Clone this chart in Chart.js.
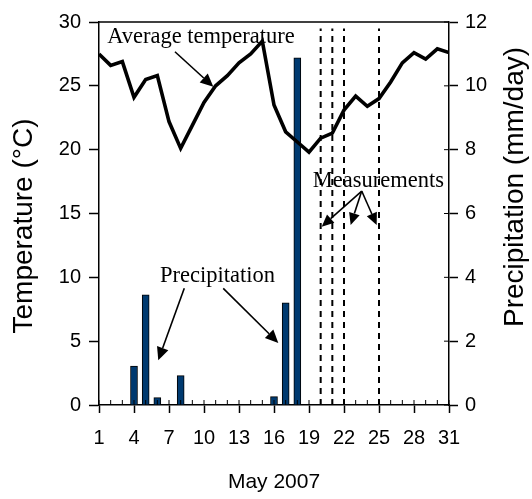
<!DOCTYPE html>
<html>
<head>
<meta charset="utf-8">
<script src="https://cdn.jsdelivr.net/npm/chart.js@4"></script>
<style>
  html, body { margin:0; padding:0; background:#fff; }
  canvas { display:block; }
</style>
</head>
<body>
<canvas id="chart" width="532" height="499"></canvas>
<script>
// ---- data (May 2007) ----
const days = [1,2,3,4,5,6,7,8,9,10,11,12,13,14,15,16,17,18,19,20,21,22,23,24,25,26,27,28,29,30,31];
const avgTemp = [27.5,26.6,26.9,24.1,25.5,25.8,22.2,20.1,21.9,23.7,25.0,25.8,26.8,27.5,28.5,
                 23.5,21.4,20.6,19.8,20.9,21.3,23.1,24.2,23.4,24.0,25.3,26.8,27.6,27.1,27.9,27.6];
const rainDays = [4,5,6,8,16,17,18];
const rainMm   = [1.22,3.45,0.23,0.92,0.26,3.2,10.88];
const measureDays = [20,21,22,25];
const measureTop  = 29.5;   // °C, top of the dashed lines
const xTickLabels = [1,4,7,10,13,16,19,22,25,28,31];
const tempTicks   = [0,5,10,15,20,25,30];
const rainTicks   = [0,2,4,6,8,10,12];

const SANS  = '"Liberation Sans", Arial, sans-serif';
const SERIF = '"Liberation Serif", "Times New Roman", serif';

// arrow helper
function arrow(ctx, x1, y1, x2, y2, len, half) {
  const a = Math.atan2(y2 - y1, x2 - x1);
  const bx = x2 - len * Math.cos(a), by = y2 - len * Math.sin(a);
  ctx.beginPath(); ctx.moveTo(x1, y1); ctx.lineTo(bx, by); ctx.stroke();
  ctx.beginPath();
  ctx.moveTo(x2, y2);
  ctx.lineTo(bx + half * Math.sin(a), by - half * Math.cos(a));
  ctx.lineTo(bx - half * Math.sin(a), by + half * Math.cos(a));
  ctx.closePath(); ctx.fill();
}

function vText(ctx, text, cx, cy) {
  ctx.save();
  ctx.translate(cx, cy);
  ctx.rotate(-Math.PI / 2);
  ctx.fillText(text, 0, 0);
  ctx.restore();
}

// frame, minor ticks, notes, axis titles (both read bottom to top)
const notes = {
  id: 'notes',
  afterDatasetsDraw(chart) {
    const { ctx, chartArea: a, scales: { x, yT, yP } } = chart;
    const px = d => x.getPixelForValue(d), py = t => yT.getPixelForValue(t);
    ctx.save();
    ctx.strokeStyle = '#000'; ctx.fillStyle = '#000';

    ctx.lineWidth = 1.5;
    ctx.beginPath(); ctx.moveTo(a.left, a.top); ctx.lineTo(a.right, a.top); ctx.stroke();

    ctx.lineWidth = 1;
    ctx.beginPath();
    days.forEach(d => { ctx.moveTo(px(d), a.bottom); ctx.lineTo(px(d), a.bottom - 5); });
    rainTicks.forEach(v => { const y = yP.getPixelForValue(v); ctx.moveTo(a.right, y); ctx.lineTo(a.right - 5, y); });
    ctx.stroke();

    ctx.font = '22.5px ' + SERIF;
    ctx.textBaseline = 'alphabetic'; ctx.textAlign = 'left';
    ctx.fillText('Average temperature', px(1.7), py(28.33));
    ctx.fillText('Precipitation', px(6.23), py(9.66));
    ctx.fillText('Measurements', px(19.32), py(17.1));

    ctx.lineWidth = 1.6;
    arrow(ctx, px(7.51), py(27.67), px(10.8), py(24.93), 13, 6);
    arrow(ctx, px(8.31), py(9.14), px(6.08), py(3.5), 13, 6);
    arrow(ctx, px(11.65), py(9.14), px(16.37), py(4.86), 13, 6);
    arrow(ctx, px(23.52), py(16.76), px(20.09), py(13.97), 12, 5.5);
    arrow(ctx, px(23.52), py(16.76), px(22.57), py(14.1), 12, 5.5);
    arrow(ctx, px(23.52), py(16.76), px(24.8), py(14.1), 12, 5.5);

    ctx.font = '28px ' + SANS;
    ctx.textAlign = 'center'; ctx.textBaseline = 'middle';
    vText(ctx, 'Temperature (°C)', 24, 226);
    vText(ctx, 'Precipitation (mm/day)', 515, 187);
    ctx.restore();
  }
};

const tempPoints = days.map((d, i) => ({ x: d, y: avgTemp[i] }));
const rainPoints = rainDays.map((d, i) => ({ x: d, y: rainMm[i] }));
const dashSets = measureDays.map(d => ({
  type: 'line', yAxisID: 'yT', order: 1,
  data: [{ x: d, y: 0 }, { x: d, y: measureTop }],
  borderColor: '#000', borderWidth: 2, borderDash: [6, 5], pointRadius: 0
}));

new Chart(document.getElementById('chart'), {
  type: 'bar',
  data: {
    datasets: [
      { type: 'bar', label: 'Precipitation', data: rainPoints, yAxisID: 'yP', order: 2,
        backgroundColor: '#003a70', borderColor: '#000', borderWidth: 1, barThickness: 7 },
      { type: 'line', label: 'Average temperature', data: tempPoints, yAxisID: 'yT', order: 0,
        borderColor: '#000', borderWidth: 3.6, pointRadius: 0, tension: 0 },
      ...dashSets
    ]
  },
  options: {
    responsive: false,
    animation: false,
    layout: { padding: { top: 22, left: 0, right: 0, bottom: 0 } },
    plugins: { legend: { display: false }, tooltip: { enabled: false } },
    scales: {
      x: {
        type: 'linear', position: 'bottom', min: 1, max: 31, offset: false,
        afterFit: s => { s.height = 94; },
        grid: { drawOnChartArea: false, offset: false, tickLength: 8, tickWidth: 1.5,
                tickColor: c => (c.tick && xTickLabels.includes(c.tick.value)) ? '#000' : 'rgba(0,0,0,0)' },
        border: { color: '#000', width: 1.5 },
        ticks: { stepSize: 1, autoSkip: false, maxRotation: 0, padding: 13, color: '#000',
                 font: { family: SANS, size: 20 },
                 callback: v => xTickLabels.includes(v) ? String(v) : '' },
        title: { display: true, text: 'May 2007', color: '#000',
                 font: { family: SANS, size: 21 }, padding: { top: 0, bottom: 4 } }
      },
      yT: {
        type: 'linear', position: 'left', min: 0, max: 30,
        afterFit: s => { s.width = 99; },
        afterBuildTicks: s => { s.ticks = tempTicks.map(v => ({ value: v })); },
        grid: { drawOnChartArea: false, tickLength: 10, tickWidth: 1.5, tickColor: '#000' },
        border: { color: '#000', width: 1.5 },
        ticks: { padding: 8, color: '#000', font: { family: SANS, size: 20 } }
      },
      yP: {
        type: 'linear', position: 'right', min: 0, max: 12,
        afterFit: s => { s.width = 83; },
        afterBuildTicks: s => { s.ticks = rainTicks.map(v => ({ value: v })); },
        grid: { drawOnChartArea: false, tickLength: 9, tickWidth: 1.5, tickColor: '#000' },
        border: { color: '#000', width: 1.5 },
        ticks: { padding: 7, color: '#000', font: { family: SANS, size: 20 } }
      }
    }
  },
  plugins: [notes]
});
</script>
</body>
</html>
